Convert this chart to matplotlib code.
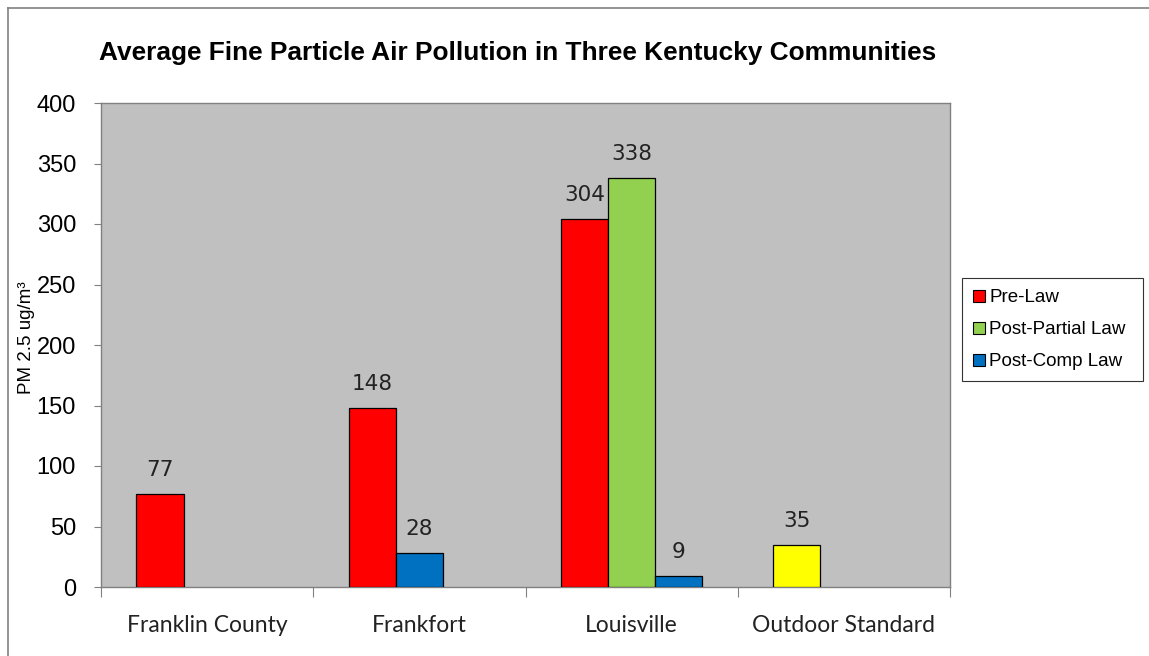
import numpy as np
import matplotlib.pyplot as plt
from matplotlib.lines import Line2D
from matplotlib.patches import Patch

categories = ["Franklin County", "Frankfort", "Louisville", "Outdoor Standard"]
series_names = ["Pre-Law", "Post-Partial Law", "Post-Comp Law"]
pre_law = [77, 148, 304, 35]
post_partial = [None, None, 338, None]
post_comp = [None, 28, 9, None]
series_colors = ["#FF0000", "#92D050", "#0070C0"]
standard_color = "#FFFF00"
y_ticks = [0, 50, 100, 150, 200, 250, 300, 350, 400]

W, H = 1149, 656
fig = plt.figure(figsize=(W / 100, H / 100), dpi=100)
ax = fig.add_axes([101 / W, (H - 587) / H, (950 - 101) / W, (587 - 103) / H])
ax.set_facecolor("#C0C0C0")

x = np.arange(len(categories))
bw = 0.222
all_series = [pre_law, post_partial, post_comp]
for i, (vals, color) in enumerate(zip(all_series, series_colors)):
    for j, v in enumerate(vals):
        if v is None:
            continue
        c = standard_color if (i == 0 and categories[j] == "Outdoor Standard") else color
        slot = i
        # in the original chart Frankfort's post-comp bar sits next to the pre-law bar
        if categories[j] == "Frankfort" and i == 2:
            slot = 1
        xpos = x[j] + (slot - 1) * bw
        ax.bar(xpos, v, width=bw, color=c, edgecolor="black", linewidth=0.9, zorder=3)
        ax.annotate(str(v), (xpos, v), xytext=(0, 10), textcoords="offset points",
                    ha="center", va="bottom", fontsize=15.5, color="#222222",
                    family="DejaVu Sans")

ax.set_xlim(-0.5, len(categories) - 0.5)
ax.set_ylim(0, 400)
ax.set_yticks(y_ticks)
ax.set_yticklabels([str(t) for t in y_ticks], fontsize=17, family="Liberation Sans")
ax.tick_params(axis="y", length=5, width=0.8, color="#808080", pad=13)

ax.set_xticks(np.arange(-0.5, len(categories)), minor=False)
ax.set_xticklabels([])
ax.tick_params(axis="x", which="major", length=7, width=0.8, color="#808080")
ax.set_xticks(x, minor=True)
ax.set_xticklabels(categories, minor=True, fontsize=16.5, family="Lato", color="#222222")
ax.tick_params(axis="x", which="minor", length=0, pad=20)

for s in ax.spines.values():
    s.set_color("#808080")
    s.set_linewidth(1.0)

ax.set_ylabel("PM 2.5 ug/m\u00b3", fontsize=13.5, family="Liberation Sans")
ax.yaxis.set_label_coords(-66 / (950 - 101), (587 - 338) / (587 - 103))
fig.text(518 / W, 1 - 53 / H,
         "Average Fine Particle Air Pollution in Three Kentucky Communities",
         ha="center", va="center", fontsize=18.9, fontweight="bold",
         family="Liberation Sans")

handles = [Patch(facecolor=c, edgecolor="black", linewidth=0.8) for c in series_colors]
leg = fig.legend(handles, series_names, loc="upper left", mode="expand",
                 bbox_to_anchor=(962 / W, 1 - 380 / H, 181 / W, 102 / H),
                 frameon=True, fancybox=False,
                 edgecolor="black", prop={"family": "Liberation Sans", "size": 13.5},
                 handlelength=0.6, handleheight=0.6, handletextpad=0.25,
                 labelspacing=0.8, borderpad=0.6, borderaxespad=0)
leg.get_frame().set_linewidth(0.8)

# outer chart frame (left and top edges visible)
fig.add_artist(Line2D([8 / W, 8 / W], [0, 1 - 8 / H], transform=fig.transFigure,
                      color="#808080", linewidth=1.2))
fig.add_artist(Line2D([8 / W, 1], [1 - 8 / H, 1 - 8 / H], transform=fig.transFigure,
                      color="#808080", linewidth=1.2))

fig.savefig("out.png", dpi=100)
